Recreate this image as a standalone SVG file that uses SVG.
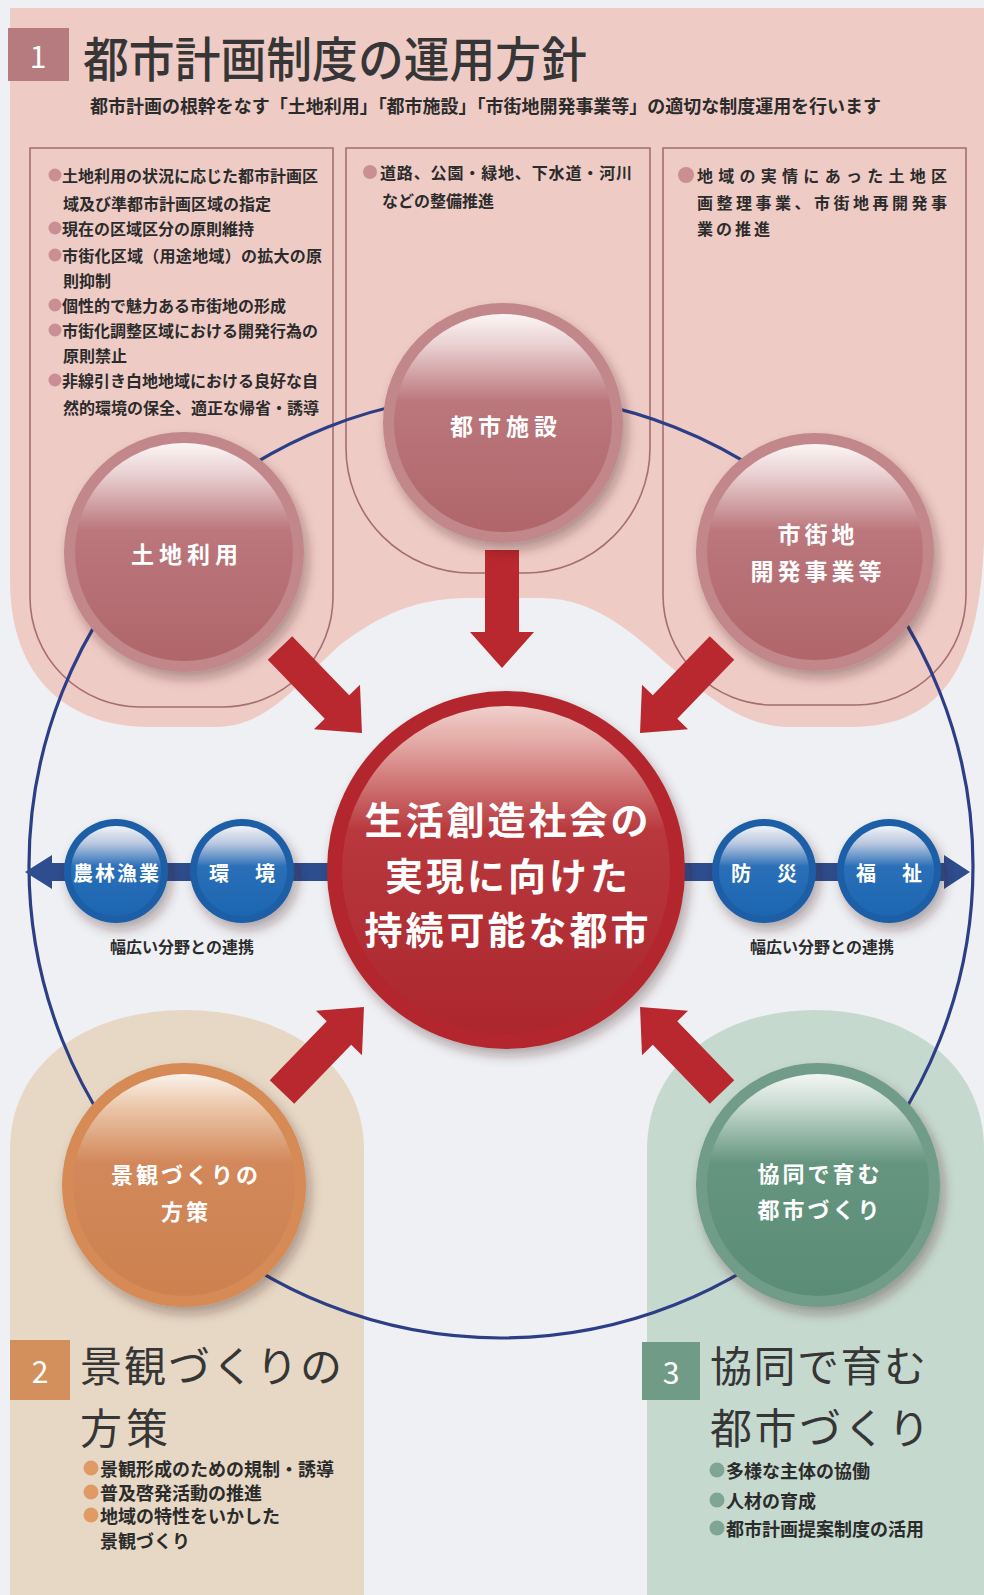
<svg xmlns="http://www.w3.org/2000/svg" width="984" height="1595" viewBox="0 0 984 1595">
<style>
.t{font-family:"Noto Sans CJK JP","Noto Sans",sans-serif;}
.b{font-weight:700}
.w{fill:#ffffff}
.d{fill:#2b2b2b}
.m{text-anchor:middle;dominant-baseline:central}
.c{dominant-baseline:central}
.ol{fill:none;stroke:#a56e70;stroke-width:1.6}
.arr{fill:#b8282e}
</style>
<defs>
<filter id="sh" x="-25%" y="-25%" width="160%" height="160%">
<feDropShadow dx="4" dy="7" stdDeviation="6" flood-color="#3a1a1a" flood-opacity="0.35"/>
</filter>
<linearGradient id="gPink" x1="0" y1="0" x2="0" y2="1">
<stop offset="0" stop-color="#fbf5f5"/><stop offset="0.14" stop-color="#ead1d2"/><stop offset="0.4" stop-color="#bb777c"/><stop offset="1" stop-color="#b0666b"/>
</linearGradient>
<linearGradient id="gRed" x1="0" y1="0" x2="0" y2="1">
<stop offset="0" stop-color="#f0d0cc"/><stop offset="0.12" stop-color="#e2a6a2"/><stop offset="0.38" stop-color="#b8383d"/><stop offset="1" stop-color="#ab272d"/>
</linearGradient>
<linearGradient id="gBlue" x1="0" y1="0" x2="0" y2="1">
<stop offset="0" stop-color="#f2f4f8"/><stop offset="0.2" stop-color="#b7c6df"/><stop offset="0.45" stop-color="#2a6fb8"/><stop offset="1" stop-color="#1c66b1"/>
</linearGradient>
<linearGradient id="gOr" x1="0" y1="0" x2="0" y2="1">
<stop offset="0" stop-color="#faf2ec"/><stop offset="0.14" stop-color="#ecc9ac"/><stop offset="0.4" stop-color="#d2885a"/><stop offset="1" stop-color="#cd8150"/>
</linearGradient>
<linearGradient id="gGr" x1="0" y1="0" x2="0" y2="1">
<stop offset="0" stop-color="#f3f6f4"/><stop offset="0.14" stop-color="#c9dbd2"/><stop offset="0.4" stop-color="#65957f"/><stop offset="1" stop-color="#5b8c76"/>
</linearGradient>
<path id="ra" d="M0,-17 H82 V-32 L118,0 L82,32 V17 H0 Z"/>
</defs>

<rect x="0" y="0" width="984" height="1595" fill="#eff0f4"/>

<g id="regions">
<path d="M8,8 H984 V540 C980,670 940,727 850,727 H790 C745,727 715,700 680,675 C640,640 600,598 540,598 H470 C415,598 380,615 340,645 C300,680 270,727 215,727 H150 C70,727 10,680 10,580 V8 Z" fill="#efcbc6"/>
<path d="M10,1595 V1150 C10,1060 90,1010 185,1010 C280,1010 364,1060 364,1150 V1595 Z" fill="#e7d8c5"/>
<path d="M647,1595 V1150 C647,1060 725,1010 815,1010 C905,1010 984,1060 984,1150 V1595 Z" fill="#c6d9cf"/>
<path class="ol" d="M30,148 H333 V597 A110,110 0 0 1 223,707 H140 A110,110 0 0 1 30,597 Z"/>
<path class="ol" d="M346,148 H650 V448 A125,125 0 0 1 525,573 H471 A125,125 0 0 1 346,448 Z"/>
<path class="ol" d="M663,148 H966 V595 A110,110 0 0 1 856,705 H773 A110,110 0 0 1 663,595 Z"/>
</g>

<g id="section1-header">
<rect x="8" y="28" width="61" height="53" fill="#b57b7f"/>
<text x="38" y="55" class="t m w" font-size="30">1</text>
<text x="83" y="56" class="t c" font-size="48" font-weight="500" fill="#363636" textLength="504" lengthAdjust="spacingAndGlyphs">都市計画制度の運用方針</text>
<text x="90" y="105" class="t b c d" font-size="18" textLength="791" lengthAdjust="spacingAndGlyphs">都市計画の根幹をなす「土地利用」「都市施設」「市街地開発事業等」の適切な制度運用を行います</text>
</g>

<g id="col-left" class="t b d" font-size="16">
<g fill="#c98f92"><circle cx="55" cy="175" r="6.5"/><circle cx="55" cy="228" r="6.5"/><circle cx="55" cy="255" r="6.5"/><circle cx="55" cy="305" r="6.5"/><circle cx="55" cy="330" r="6.5"/><circle cx="55" cy="380" r="6.5"/></g>
<text x="62" y="175" class="c">土地利用の状況に応じた都市計画区</text>
<text x="63" y="203" class="c">域及び準都市計画区域の指定</text>
<text x="62" y="228" class="c">現在の区域区分の原則維持</text>
<text x="62" y="255" class="c" textLength="260">市街化区域（用途地域）の拡大の原</text>
<text x="63" y="280" class="c">則抑制</text>
<text x="62" y="305" class="c">個性的で魅力ある市街地の形成</text>
<text x="62" y="330" class="c">市街化調整区域における開発行為の</text>
<text x="63" y="355" class="c">原則禁止</text>
<text x="62" y="380" class="c">非線引き白地地域における良好な自</text>
<text x="63" y="407" class="c">然的環境の保全、適正な帰省・誘導</text>
</g>

<g id="col-mid" class="t b d" font-size="16">
<circle cx="370" cy="172" r="7" fill="#c98f92"/>
<text x="380" y="172" class="c" textLength="252">道路、公園・緑地、下水道・河川</text>
<text x="382" y="200" class="c">などの整備推進</text>
</g>

<g id="col-right" class="t b d" font-size="16">
<circle cx="686" cy="175" r="8" fill="#c98f92"/>
<text x="697" y="175" class="c" textLength="250">地域の実情にあった土地区</text>
<text x="697" y="202" class="c" textLength="250">画整理事業、市街地再開発事</text>
<text x="697" y="228" class="c" letter-spacing="3">業の推進</text>
</g>

<g id="connectors">
<circle cx="501" cy="866" r="472" fill="none" stroke="#2c3f86" stroke-width="3.2"/>
<polygon points="25,872 52,855 52,863 944,863 944,855 970,872 944,889 944,881 52,881 52,889" fill="#2e4d8e"/>
<use href="#ra" class="arr" transform="translate(502,550) rotate(90)"/>
<use href="#ra" class="arr" transform="translate(280,648) rotate(46)"/>
<use href="#ra" class="arr" transform="translate(722,648) rotate(134)"/>
<use href="#ra" class="arr" transform="translate(282,1092) rotate(-46)"/>
<use href="#ra" class="arr" transform="translate(722,1092) rotate(-134)"/>
</g>

<g id="n-tochi">
<circle cx="184" cy="552" r="120" fill="#c2878a" filter="url(#sh)"/>
<circle cx="184" cy="552" r="109" fill="url(#gPink)"/>
<text x="187" y="553" class="t b m w" font-size="23" letter-spacing="5">土地利用</text>
</g>
<g id="n-toshishisetsu">
<circle cx="503" cy="423" r="120" fill="#c2878a" filter="url(#sh)"/>
<circle cx="503" cy="423" r="109" fill="url(#gPink)"/>
<text x="506" y="425" class="t b m w" font-size="23" letter-spacing="5">都市施設</text>
</g>
<g id="n-shigaichi">
<circle cx="815" cy="552" r="119" fill="#c2878a" filter="url(#sh)"/>
<circle cx="815" cy="552" r="108" fill="url(#gPink)"/>
<text x="818" y="533" class="t b m w" font-size="23" letter-spacing="4">市街地</text>
<text x="818" y="570" class="t b m w" font-size="23" letter-spacing="4">開発事業等</text>
</g>

<g id="n-center">
<circle cx="506" cy="870" r="179" fill="#b3282e" filter="url(#sh)"/>
<circle cx="506" cy="870" r="164" fill="url(#gRed)"/>
<text x="508" y="817" class="t b m w" font-size="38" letter-spacing="3">生活創造社会の</text>
<text x="508" y="873" class="t b m w" font-size="38" letter-spacing="3">実現に向けた</text>
<text x="508" y="927" class="t b m w" font-size="38" letter-spacing="3">持続可能な都市</text>
</g>

<g id="n-nourin">
<circle cx="116" cy="871" r="52" fill="#1f5fa6" filter="url(#sh)"/>
<circle cx="116" cy="871" r="45" fill="url(#gBlue)"/>
<text x="117" y="872" class="t b m w" font-size="20" letter-spacing="2">農林漁業</text>
</g>
<g id="n-kankyo">
<circle cx="242" cy="871" r="52" fill="#1f5fa6" filter="url(#sh)"/>
<circle cx="242" cy="871" r="45" fill="url(#gBlue)"/>
<text x="255" y="872" class="t b m w" font-size="20" letter-spacing="26">環境</text>
</g>
<g id="n-bousai">
<circle cx="764" cy="871" r="52" fill="#1f5fa6" filter="url(#sh)"/>
<circle cx="764" cy="871" r="45" fill="url(#gBlue)"/>
<text x="777" y="872" class="t b m w" font-size="20" letter-spacing="26">防災</text>
</g>
<g id="n-fukushi">
<circle cx="889" cy="871" r="52" fill="#1f5fa6" filter="url(#sh)"/>
<circle cx="889" cy="871" r="45" fill="url(#gBlue)"/>
<text x="902" y="872" class="t b m w" font-size="20" letter-spacing="26">福祉</text>
</g>
<g id="labels-renkei" class="t b d" font-size="16">
<text x="182" y="946" class="m">幅広い分野との連携</text>
<text x="822" y="946" class="m">幅広い分野との連携</text>
</g>

<g id="n-keikan">
<circle cx="184" cy="1185" r="122" fill="#d68a55" filter="url(#sh)"/>
<circle cx="184" cy="1185" r="111" fill="url(#gOr)"/>
<text x="186" y="1173" class="t b m w" font-size="22" letter-spacing="3">景観づくりの</text>
<text x="186" y="1210" class="t b m w" font-size="22" letter-spacing="3">方策</text>
</g>
<g id="n-kyoudou">
<circle cx="818" cy="1185" r="122" fill="#6f9c89" filter="url(#sh)"/>
<circle cx="818" cy="1185" r="111" fill="url(#gGr)"/>
<text x="820" y="1172" class="t b m w" font-size="22" letter-spacing="3">協同で育む</text>
<text x="820" y="1208" class="t b m w" font-size="22" letter-spacing="3">都市づくり</text>
</g>

<g id="section2">
<rect x="10" y="1340" width="60" height="60" fill="#d4905c"/>
<text x="40" y="1370" class="t m w" font-size="30">2</text>
<text x="80" y="1382" class="t" font-size="42" fill="#363636" textLength="262">景観づくりの</text>
<text x="80" y="1444" class="t" font-size="42" fill="#363636" textLength="88">方策</text>
<g fill="#e09a66"><circle cx="91" cy="1468" r="7.5"/><circle cx="91" cy="1492" r="7.5"/><circle cx="91" cy="1515" r="7.5"/></g>
<g class="t b d" font-size="18">
<text x="100" y="1468" class="c">景観形成のための規制・誘導</text>
<text x="100" y="1492" class="c">普及啓発活動の推進</text>
<text x="100" y="1515" class="c">地域の特性をいかした</text>
<text x="100" y="1540" class="c">景観づくり</text>
</g>
</g>

<g id="section3">
<rect x="642" y="1342" width="58" height="58" fill="#6f9b87"/>
<text x="671" y="1371" class="t m w" font-size="30">3</text>
<text x="710" y="1382" class="t" font-size="42" fill="#363636" textLength="216">協同で育む</text>
<text x="710" y="1444" class="t" font-size="42" fill="#363636" textLength="220">都市づくり</text>
<g fill="#7fa594"><circle cx="717" cy="1470" r="7.5"/><circle cx="717" cy="1500" r="7.5"/><circle cx="717" cy="1528" r="7.5"/></g>
<g class="t b d" font-size="18">
<text x="726" y="1470" class="c">多様な主体の協働</text>
<text x="726" y="1500" class="c">人材の育成</text>
<text x="726" y="1528" class="c">都市計画提案制度の活用</text>
</g>
</g>
</svg>
